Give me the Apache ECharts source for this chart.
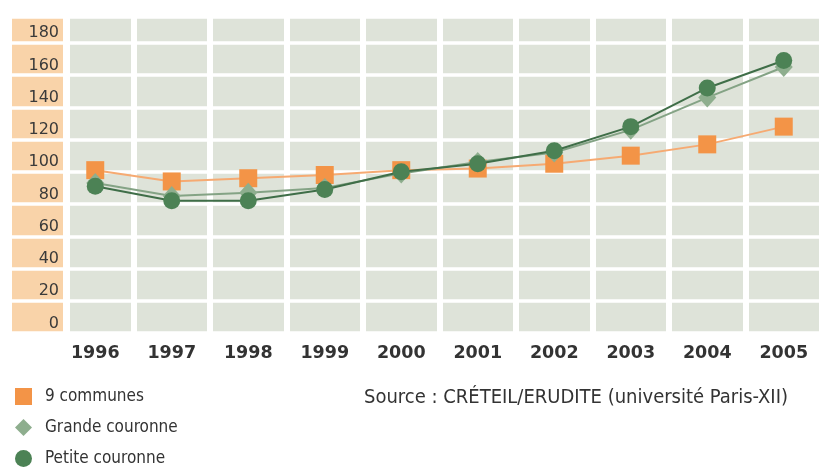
<!DOCTYPE html>
<html>
<head>
<meta charset="utf-8">
<script src="https://cdn.jsdelivr.net/npm/echarts@6/dist/echarts.min.js"></script>
<style>
html,body{margin:0;padding:0;background:#fff;}
#c{width:822px;height:468px;}
</style>
</head>
<body>
<div id="c"></div>
<script>
const years = ['1996','1997','1998','1999','2000','2001','2002','2003','2004','2005'];
const neufCommunes = [101, 94, 96, 98, 101, 102, 105, 110, 117, 128];
const grandeCouronne = [93, 85, 87, 90, 99, 106, 112, 126, 146, 165];
const petiteCouronne = [91, 82, 82, 89, 100, 105, 113, 128, 152, 169];
const seriesNames = ['9 communes', 'Grande couronne', 'Petite couronne'];
const sourceText = 'Source : CRÉTEIL/ERUDITE (université Paris-XII)';

const chart = echarts.init(document.getElementById('c'), null, {renderer: 'canvas'});
const yMin = 0, yMax = 196, yStep = 20;
const labelFmt = v => (v % yStep === 0 && v <= 180) ? String(v) : '';

chart.setOption({
  animation: false,
  backgroundColor: '#ffffff',
  grid: [
    {left: 57, top: 17, width: 780, height: 316, show: true, backgroundColor: '#DEE3D9', borderWidth: 0, z: 0},
    {left: 12, top: 17, width: 51, height: 316, show: false, z: 4}
  ],
  xAxis: [
    {gridIndex: 0, type: 'category', data: years, boundaryGap: true,
     axisLine: {show: false}, axisTick: {show: false},
     axisLabel: {margin: 11, fontFamily: 'DejaVu Sans', fontWeight: 'bold', fontSize: 17.5, color: '#333'},
     splitLine: {show: true, interval: 0, lineStyle: {color: '#ffffff', width: 6}}},
    {gridIndex: 1, type: 'value', show: false, min: 0, max: 1}
  ],
  yAxis: [
    {gridIndex: 0, type: 'value', min: yMin, max: yMax, interval: yStep,
     axisLine: {show: false}, axisTick: {show: false}, axisLabel: {show: false},
     splitLine: {show: true, lineStyle: {color: '#ffffff', width: 3.5}}},
    {gridIndex: 1, type: 'value', min: yMin, max: yMax, interval: yStep, position: 'right', z: 5,
     axisLine: {show: false}, axisTick: {show: false},
     axisLabel: {inside: true, margin: 4, formatter: labelFmt, fontFamily: 'DejaVu Sans', fontSize: 16, color: '#3a3a3a', verticalAlign: 'bottom', lineHeight: 19},
     splitArea: {show: true, areaStyle: {color: ['#F9D3A9']}},
     splitLine: {show: true, lineStyle: {color: '#ffffff', width: 3.5}}}
  ],
  graphic: {
    elements: [
      {type: 'rect', z: 3, shape: {x: 56, y: 10, width: 14, height: 330}, style: {fill: '#ffffff'}}
    ]
  },
  title: {
    text: sourceText, right: 29, top: 383,
    textStyle: {fontFamily: 'DejaVu Sans Condensed', fontWeight: 'normal', fontSize: 20, color: '#333'}
  },
  legend: {
    orient: 'vertical', left: 15, top: 388, height: 90, padding: 0,
    itemWidth: 17, itemHeight: 17, itemGap: 14,
    textStyle: {fontFamily: 'DejaVu Sans Condensed', fontSize: 17, color: '#333', padding: [0, 0, 0, 8]},
    data: [
      {name: seriesNames[0], icon: 'rect'},
      {name: seriesNames[1], icon: 'diamond'},
      {name: seriesNames[2], icon: 'circle'}
    ]
  },
  series: [
    {name: seriesNames[0], type: 'line', xAxisIndex: 0, yAxisIndex: 0, data: neufCommunes,
     symbol: 'rect', symbolSize: 18, lineStyle: {color: '#F6AA72', width: 2},
     itemStyle: {color: '#F39447'}, z: 2},
    {name: seriesNames[1], type: 'line', xAxisIndex: 0, yAxisIndex: 0, data: grandeCouronne,
     symbol: 'diamond', symbolSize: [18, 20], lineStyle: {color: '#84A385', width: 2},
     itemStyle: {color: '#8EAE8E'}, z: 3},
    {name: seriesNames[2], type: 'line', xAxisIndex: 0, yAxisIndex: 0, data: petiteCouronne,
     symbol: 'circle', symbolSize: 17, lineStyle: {color: '#3F6E48', width: 2},
     itemStyle: {color: '#4C8255'}, z: 4}
  ]
});
</script>
</body>
</html>
